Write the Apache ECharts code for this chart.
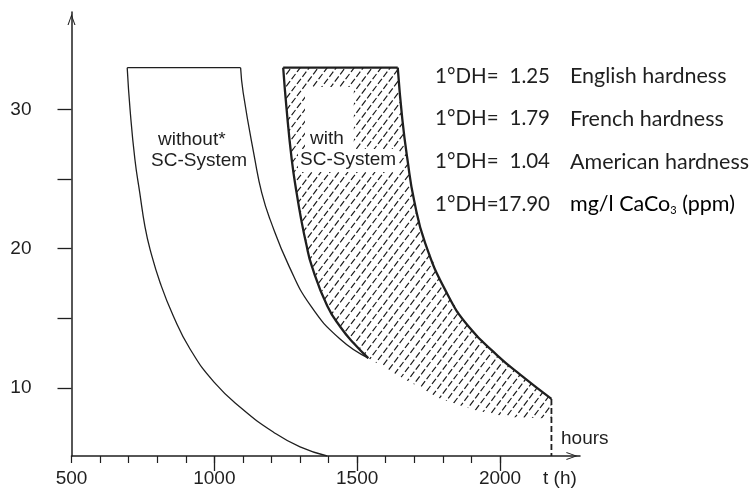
<!DOCTYPE html>
<html><head><meta charset="utf-8">
<script src="https://cdn.jsdelivr.net/npm/echarts@6/dist/echarts.min.js"></script>
<style>html,body{margin:0;padding:0;background:#fff}#c{width:752px;height:488px}</style>
</head><body><div id="c"></div>
<script>
// ---- axis ticks / labels ----
const xLabelValues = [500, 1000, 1500, 2000];
const xMajorTickValues = [1000, 1500, 2000];
const xMinorTickValues = [500, 600, 700, 800, 900, 1000, 1100, 1200, 1300, 1400, 1500, 1600, 1700, 1800, 1900, 2000];
const yTickValues = [10, 15, 20, 25, 30];
const yLabelValues = [10, 20, 30];

// ---- curves [t (h), hardness °DH] ----
const withoutLeftEdge = [[695,33],[705,30],[722,26.4],[739,24],[757,21.6],[775,19.95],[810,17.57],[856,15.18],[915,12.79],[999,10.41],[1097,8.5],[1206,6.83],[1300,5.75],[1395,5.1]];
const withoutTopEdge = [[695,33],[1092,33]];
const withoutRightEdge = [[1092,33],[1101,31.2],[1142,26.4],[1166,24.0],[1195,22.1],[1261,18.76],[1337,15.9],[1440,13.5],[1539,12.13]];
const withTopEdge = [[1241,33],[1642,33]];
const withLeftEdge = [[1241,33],[1253,30],[1271,26.4],[1288,24],[1304,22.1],[1321,20.4],[1341,18.76],[1395,15.9],[1442,14.35],[1488,13.2],[1539,12.13]];
const withRightEdge = [[1642,33],[1658,29.3],[1676,26.4],[1699,23.5],[1738,20.4],[1814,16.8],[1890,14.4],[1992,12.3],[2074,10.9],[2180,9.2]];
const hatchBottomEdge = [[2180,7.8],[2027,7.9],[1910,8.4],[1793,9.2],[1676,10.5],[1539,12.13]];
const dropLine = [[2180,9.2],[2180,5.1]];

// ---- conversion table text ----
const hardnessFactors = ['1.25', '1.79', '1.04', '17.90'];
const hardnessNames = ['English hardness', 'French hardness', 'American hardness', 'mg/l CaCo|3| (ppm)'];

const INK = '#1f1f1f';
const FONT = 'Liberation Sans';
const LFONT = 'Lato';

// hatch pattern: dashed diagonal lines
function makeHatch() {
  const W = 27, H = 36;
  const c = document.createElement('canvas');
  c.width = W; c.height = H;
  const ctx = c.getContext('2d');
  ctx.strokeStyle = '#151515'; ctx.lineWidth = 1.15; ctx.lineCap = 'butt';
  const dx = 0.6, dy = -0.8;
  for (let k = 0; k < 3; k++) {
    for (let i = -2; i <= 2; i++) for (let j = -2; j <= 3; j++) {
      const ox = 9 * k + i * W, oy = j * H;
      for (let n = 0; n < 5; n++) {
        const s = 3 * k + 9 * n;
        ctx.beginPath();
        ctx.moveTo(ox + s * dx, oy + s * dy);
        ctx.lineTo(ox + (s + 6.5) * dx, oy + (s + 6.5) * dy);
        ctx.stroke();
      }
    }
  }
  return c;
}
const hatchCanvas = makeHatch();

const hatchPolygon = []
  .concat(withTopEdge)
  .concat(withRightEdge.slice(1))
  .concat(hatchBottomEdge)
  .concat(withLeftEdge.slice(0, -1).reverse());

const chevron = 'path://M0,14 L5,0 L10,14 L8.6,14 L5,3.2 L1.4,14 Z';

function lineSeries(data, width, extra) {
  return Object.assign({
    type: 'line', data: data, smooth: 0.5, symbol: 'none', silent: true, z: 3,
    lineStyle: { color: INK, width: width }
  }, extra || {});
}

const chart = echarts.init(document.getElementById('c'), null, { renderer: 'canvas' });

const legendGraphics = [];
hardnessFactors.forEach(function (f, i) {
  const y = 76 + i * 42.8;
  legendGraphics.push({ type: 'text', x: 435, y: y, z: 10,
    style: { text: '1°DH=', font: '20.5px ' + LFONT, fill: INK, verticalAlign: 'middle', align: 'left' } });
  legendGraphics.push({ type: 'text', x: 550, y: y, z: 10,
    style: { text: f, font: '20.5px ' + LFONT, fill: INK, verticalAlign: 'middle', align: 'right' } });
  const name = hardnessNames[i];
  if (name.indexOf('|') >= 0) {
    const parts = name.split('|');
    legendGraphics.push({ type: 'text', x: 570, y: y, z: 10,
      style: { text: '{a|' + parts[0] + '}{s|' + parts[1] + '}{a|' + parts[2] + '}', verticalAlign: 'middle', align: 'left',
        rich: { a: { fontSize: 21.5, fontFamily: LFONT, color: INK, lineHeight: 24 },
                s: { fontSize: 11, fontFamily: LFONT, color: INK, lineHeight: 11, verticalAlign: 'bottom' } } } });
  } else {
    legendGraphics.push({ type: 'text', x: 570, y: y, z: 10,
      style: { text: name, font: '21.5px ' + LFONT, fill: INK, verticalAlign: 'middle', align: 'left' } });
  }
});

const regionLabels = [
  { type: 'text', x: 158, y: 130, z: 10, style: { text: 'without*', font: '19px ' + FONT, fill: INK } },
  { type: 'text', x: 151, y: 151, z: 10, style: { text: 'SC-System', font: '19px ' + FONT, fill: INK } },
  { type: 'text', x: 305, y: 87, z: 2, style: { text: 'with', font: '19px ' + FONT, fill: INK,
      backgroundColor: '#fff', padding: [42, 10, 1, 5] } },
  { type: 'text', x: 298, y: 149, z: 2, style: { text: 'SC-System', font: '19px ' + FONT, fill: INK,
      backgroundColor: '#fff', padding: [1, 3, 3, 2] } },
  { type: 'text', x: 561, y: 429, z: 10, style: { text: 'hours', font: '19px ' + FONT, fill: INK } }
];

chart.setOption({
  animation: false,
  backgroundColor: '#fff',
  grid: { left: 71.5, right: 172, top: 12, bottom: 30.7, containLabel: false },
  xAxis: [{
    type: 'value', min: 500, max: 2280, position: 'bottom',
    axisLine: { show: true, lineStyle: { color: INK, width: 1.5 }, symbol: ['none', chevron], symbolSize: [8, 16], symbolOffset: [0, -8] },
    axisTick: { show: true, customValues: xMajorTickValues, length: 15, lineStyle: { color: INK, width: 1.3 } },
    axisLabel: { customValues: xLabelValues, margin: 13, fontSize: 19, fontFamily: FONT, color: INK,
      formatter: function (v) { return String(v); } },
    splitLine: { show: false },
    name: 't (h)', nameLocation: 'end', nameGap: -37,
    nameTextStyle: { fontSize: 19, fontFamily: FONT, color: INK, align: 'left', verticalAlign: 'top', padding: [13, 0, 0, 0] }
  }, {
    type: 'value', min: 500, max: 2280, position: 'bottom',
    axisLine: { show: false },
    axisTick: { show: true, customValues: xMinorTickValues, length: 7, lineStyle: { color: INK, width: 1.2 } },
    axisLabel: { show: false }, splitLine: { show: false }
  }],
  yAxis: {
    type: 'value', min: 5.1, max: 37,
    axisLine: { show: true, lineStyle: { color: INK, width: 1.5 }, symbol: ['none', chevron], symbolSize: [8, 15], symbolOffset: [0, -7.5] },
    axisTick: { show: true, customValues: yTickValues, length: 14, lineStyle: { color: INK, width: 1.3 } },
    axisLabel: { customValues: yLabelValues, margin: 40, fontSize: 19, fontFamily: FONT, color: INK },
    splitLine: { show: false }
  },
  graphic: legendGraphics.concat(regionLabels),
  series: [
    {
      type: 'custom', xAxisIndex: 0, yAxisIndex: 0, z: 1, silent: true, clip: false,
      data: [[1500, 20]],
      renderItem: function (params, api) {
        const pts = hatchPolygon.map(function (p) { return api.coord(p); });
        return { type: 'polygon', shape: { points: pts },
          style: { fill: { image: hatchCanvas, repeat: 'repeat' }, stroke: null } };
      }
    },
    lineSeries(withoutLeftEdge, 1.3),
    lineSeries(withoutTopEdge, 1.3, { smooth: false }),
    lineSeries(withoutRightEdge, 1.3),
    lineSeries(withTopEdge, 2.3, { smooth: false }),
    lineSeries(withLeftEdge, 2.3),
    lineSeries(withRightEdge, 2.3),
    lineSeries(dropLine, 1.8, { smooth: false, lineStyle: { color: INK, width: 1.8, type: [6, 3] } })
  ]
});
</script></body></html>
